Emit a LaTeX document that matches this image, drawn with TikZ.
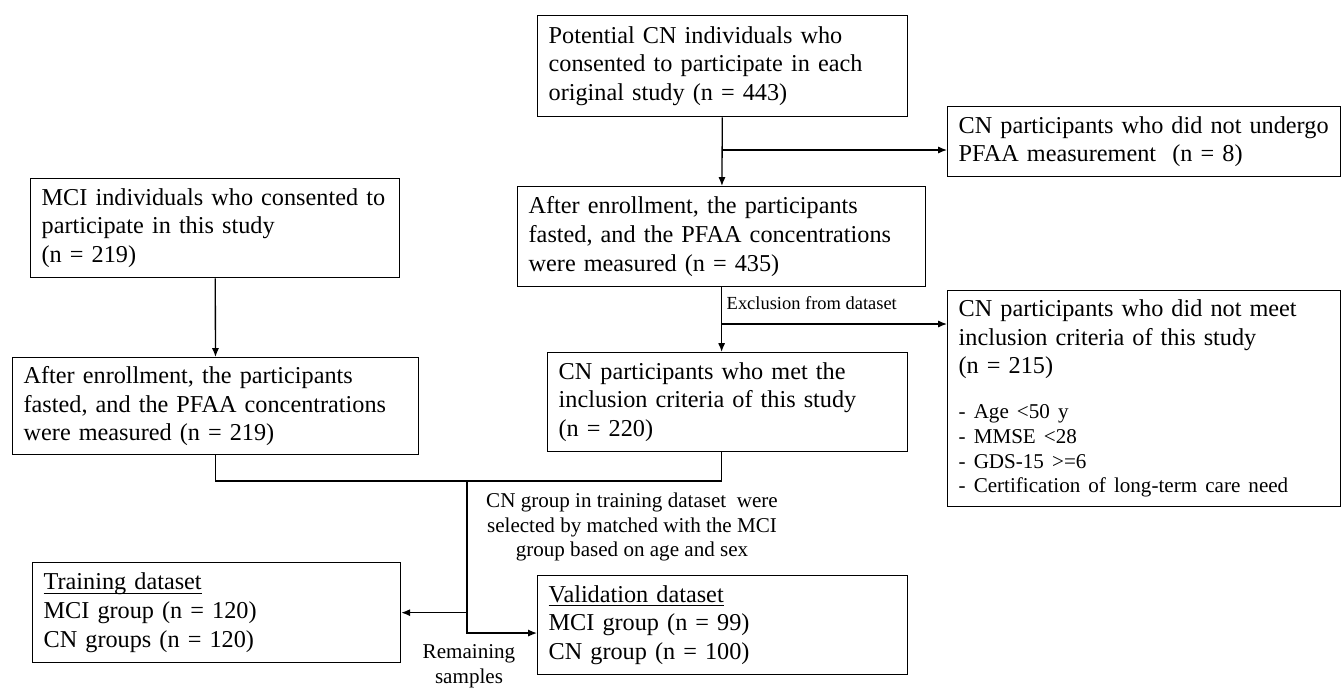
\documentclass[tikz,border=0pt]{standalone}
\usepackage{fontspec}
\setmainfont{Liberation Serif}
\usepackage{tikz}
\usetikzlibrary{arrows.meta}
\newcommand{\fsmain}{\fontsize{13.8pt}{16.3pt}\selectfont}
\newcommand{\fsnote}{\fontsize{12pt}{14.2pt}\selectfont}
\newcommand{\fslabel}{\fontsize{10.5pt}{12.5pt}\selectfont}
\newsavebox{\hlbox}
\newcommand{\headline}[1]{\sbox{\hlbox}{#1}\rlap{\rule[-2.2pt]{\wd\hlbox}{0.6pt}}\usebox{\hlbox}}

\begin{document}
\begin{tikzpicture}[>={Latex[length=5pt,width=4pt]},x=0.02cm,y=-0.02cm,line width=0.75pt]
\tikzstyle{box}=[draw, align=left, inner xsep=0.22cm, inner ysep=0pt, anchor=north west, font=\fsmain]
\tikzstyle{note}=[align=center, inner sep=0pt, font=\fsnote]
\useasboundingbox (0,0) rectangle (1342,687);

\node[box, text width=6.96cm, minimum height=2.02cm] (pot) at (537,15) {Potential CN individuals who\\consented to participate in each\\original study (n = 443)};
\node[box, text width=7.42cm, minimum height=1.4cm] (nopfaa) at (947,106) {CN participants who did not undergo\\PFAA measurement\ \ (n = 8)};
\node[box, text width=6.94cm, minimum height=1.98cm] (mci) at (30,178) {MCI individuals who consented to\\participate in this study\\(n = 219)};
\node[box, text width=7.72cm, minimum height=2.0cm] (cnmeas) at (517,186) {After enrollment, the participants\\fasted, and the PFAA concentrations\\were measured (n = 435)};
\node[box, text width=7.68cm, minimum height=1.94cm] (mcimeas) at (12,357) {After enrollment, the participants\\fasted, and the PFAA concentrations\\were measured (n = 219)};
\node[box, text width=6.76cm, minimum height=1.98cm] (cnmet) at (547,352) {CN participants who met the\\inclusion criteria of this study\\(n = 220)};
\node[box, text width=7.42cm, minimum height=4.32cm] (excl) at (947,290) {CN participants who did not meet\\inclusion criteria of this study\\(n = 215)\par\vspace{11pt}{\fsnote - Age <50 y\\- MMSE <28\\- GDS-15 >=6\\- Certification of long-term care need\par}};
\node[box, text width=6.92cm, minimum height=2.0cm] (train) at (32,562) {\headline{Training dataset}\\MCI group (n = 120)\\CN groups (n = 120)};
\node[box, text width=6.96cm, minimum height=1.98cm] (valid) at (537,575) {\headline{Validation dataset}\\MCI group (n = 99)\\CN group (n = 100)};

\coordinate (split1) at (pot.south |- 0,150);
\coordinate (split2) at (cnmeas.south |- 0,324);
\coordinate (merge) at (467,481);

\draw[->] (pot) -- (cnmeas);
\draw[->] (split1) -- (split1 -| nopfaa.west);
\draw[->] (mci) -- (mcimeas);
\draw[->] (cnmeas.south) -- (cnmeas.south |- cnmet.north);
\draw[->] (split2) -- (split2 -| excl.west) node[pos=0.4, above=8pt, inner sep=0pt, font=\fslabel] (exlbl) {Exclusion from dataset};
\draw (mcimeas.south) |- (merge) -| (cnmeas.south |- cnmet.south);
\draw[->] (merge) |- (train.east);
\draw[->] (merge) |- ([yshift=-4.5pt]valid.west);

\node[note] (matchnote) at (632,527) {CN group in training dataset\ \ were\\selected by matched with the MCI\\group based on age and sex};
\node[note] (remnote) at (469,666) {Remaining\\samples};
\end{tikzpicture}
\end{document}
